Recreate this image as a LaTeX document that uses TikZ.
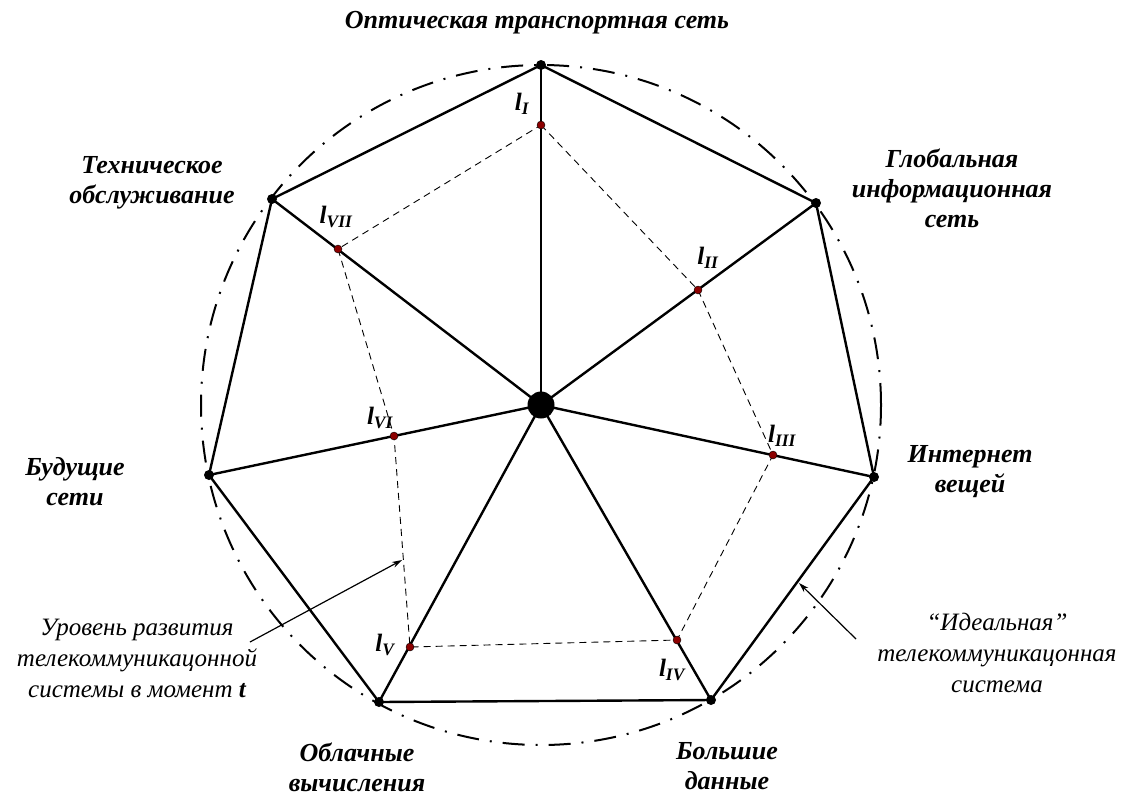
\documentclass[tikz,border=0pt]{standalone}
\usepackage{fontspec}
\setmainfont{Liberation Serif}
\usetikzlibrary{arrows.meta}
\begin{document}
\begin{tikzpicture}[x=1pt,y=-1pt,
  edge/.style={line width=2.4pt},
  dsh/.style={line width=0.9pt,dash pattern=on 7pt off 5pt},
  circ/.style={line width=2pt,dash pattern=on 22pt off 11pt on 2pt off 11pt},
  vdot/.style={circle,fill=black,inner sep=0pt,minimum size=10pt},
  rdot/.style={circle,fill=red!55!black,draw=black,line width=0.4pt,inner sep=0pt,minimum size=8pt},
  cdot/.style={circle,fill=black,inner sep=0pt,minimum size=27pt},
  ttl/.style={align=center,font=\fontsize{26}{30}\selectfont\bfseries\itshape,inner sep=0pt},
  ann/.style={align=center,font=\fontsize{25}{31}\selectfont\itshape,inner sep=0pt},
  lbl/.style={font=\fontsize{25}{26}\selectfont\bfseries\itshape,inner sep=0pt},
  arr/.style={line width=1.2pt,-{Stealth[length=10pt,width=6pt]}}]
\useasboundingbox (0,0) rectangle (1124,796);
\coordinate (C) at (541,405);
\coordinate (V1) at (541,65);
\coordinate (V2) at (816,203);
\coordinate (V3) at (874,477);
\coordinate (V4) at (711,700);
\coordinate (V5) at (379,702);
\coordinate (V6) at (209,475);
\coordinate (V7) at (272,199);
\coordinate (P1) at (541,125);
\coordinate (P2) at (698,290);
\coordinate (P3) at (773,455);
\coordinate (P4) at (677,640);
\coordinate (P5) at (410,647);
\coordinate (P6) at (394,436);
\coordinate (P7) at (338,249);
% circle
\draw[circ] (C) circle (340pt);
% polygon and spokes
\draw[edge,line join=round] (V1) -- (V2) -- (V3) -- (V4) -- (V5) -- (V6) -- (V7) -- cycle;
\foreach \i in {1,...,7} \draw[edge] (C) -- (V\i);
% dashed inner polygon
\draw[dsh] (P1) -- (P2) -- (P3) -- (P4) -- (P5) -- (P6) -- (P7) -- cycle;
% dots
\node[cdot] (c) at (C) {};
\foreach \i in {1,...,7} {
  \node[vdot] (v\i) at (V\i) {};
  \node[rdot] (p\i) at (P\i) {};
}
% l labels
\node[lbl] (l1) at (522,104) {l\textsubscript{I}};
\node[lbl] (l2) at (708,258) {l\textsubscript{II}};
\node[lbl] (l3) at (782,436) {l\textsubscript{III}};
\node[lbl] (l4) at (672,670) {l\textsubscript{IV}};
\node[lbl] (l5) at (385,645) {l\textsubscript{V}};
\node[lbl] (l6) at (380,418) {l\textsubscript{VI}};
\node[lbl] (l7) at (336,217) {l\textsubscript{VII}};
% titles
\node[ttl] (t1) at (537,23) {Оптическая транспортная сеть};
\node[ttl] (t2) at (952,188) {Глобальная\\информационная\\сеть};
\node[ttl] (t3) at (970,472) {Интернет\\вещей};
\node[ttl] (t4) at (727,766) {Большие\\данные};
\node[ttl] (t5) at (357,767) {Облачные\\вычисления};
\node[ttl] (t6) at (75,482) {Будущие\\сети};
\node[ttl] (t7) at (152,183) {Техническое\\обслуживание};
% annotations
\node[ann] (a1) at (137,658) {Уровень развития\\телекоммуникацонной\\системы в момент \textbf{t}};
\node[ann] (a2) at (997,653) {“Идеальная”\\телекоммуникацонная\\система};
\coordinate (s1) at (250,642);
\coordinate (e1) at (402,560);
\coordinate (s2) at (856,639);
\coordinate (e2) at (799,583);
\draw[arr] (s1) -- (e1);
\draw[arr] (s2) -- (e2);
\end{tikzpicture}
\end{document}
